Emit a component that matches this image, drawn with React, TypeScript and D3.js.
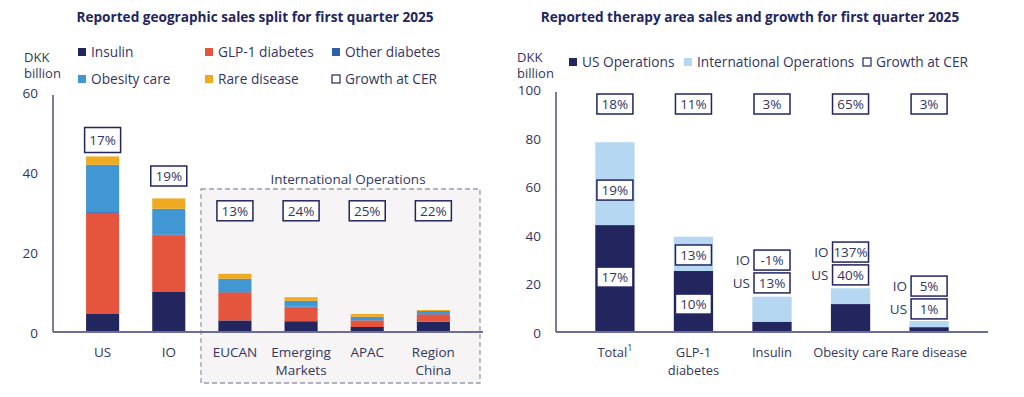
import * as d3 from 'd3';

// left chart: geographic split
const regions = ['US', 'IO', 'EUCAN', 'Emerging Markets', 'APAC', 'Region China'];
const regionLabels = [['US'], ['IO'], ['EUCAN'], ['Emerging', 'Markets'], ['APAC'], ['Region', 'China']];
const insulin = [4.5, 10.0, 2.9, 2.7, 1.25, 2.6];
const glp1 = [25.3, 14.1, 7.0, 3.5, 1.65, 1.8];
const otherDiabetes = [0.2, 0.3, 0.1, 0.1, 0.05, 0.1];
const obesity = [11.8, 6.4, 3.3, 1.5, 0.85, 0.75];
const rareDisease = [2.1, 2.6, 1.25, 0.9, 0.7, 0.25];
const regionGrowth = ['17%', '19%', '13%', '24%', '25%', '22%'];
const leftTicks = [0, 20, 40, 60];

// right chart: therapy areas
const therapies = ['Total', 'GLP-1 diabetes', 'Insulin', 'Obesity care', 'Rare disease'];
const usOps = [44.0, 25.1, 4.25, 11.5, 2.0];
const intlOps = [34.1, 14.1, 10.3, 6.5, 2.5];
const totalGrowth = ['18%', '11%', '3%', '65%', '3%'];
const usGrowth = ['17%', '10%', '13%', '40%', '1%'];
const ioGrowth = ['19%', '13%', '-1%', '137%', '5%'];
const rightTicks = [0, 20, 40, 60, 80, 100];

const NAVY = '#23255f';
const TEXT = '#33365f';
const AXIS = '#6b6d92';
const FONT = '"Open Sans", sans-serif';

function Box({ cx, cy, label, w = 36, h = 20 }: { cx: number; cy: number; label: string; w?: number; h?: number }) {
  return (
    <g>
      <rect x={cx - w / 2} y={cy - h / 2} width={w} height={h} fill="#fff" stroke={NAVY} strokeWidth={1.5} />
      <text x={cx} y={cy + 5} textAnchor="middle" fontSize={13.5} fill={TEXT}>{label}</text>
    </g>
  );
}

function LeftChart() {
  const x = d3.scaleBand().domain(regions).range([53, 483]).padding(0.5);
  const y = d3.scaleLinear().domain([0, 60]).range([332, 92]);
  const keys = ['insulin', 'glp1', 'other', 'obesity', 'rare'];
  const colors = ['#23255f', '#e5553d', '#2d5fae', '#4196d4', '#eeab22'];
  const rows = regions.map((r, i) => ({
    region: r, insulin: insulin[i], glp1: glp1[i], other: otherDiabetes[i], obesity: obesity[i], rare: rareDisease[i],
  }));
  const series = d3.stack<any>().keys(keys)(rows);
  const legend = [
    ['Insulin', colors[0]], ['GLP-1 diabetes', colors[1]], ['Other diabetes', colors[2]],
    ['Obesity care', colors[3]], ['Rare disease', colors[4]], ['Growth at CER', 'none'],
  ];
  const boxY = [y(48), y(39), y(30.3), y(30.3), y(30.3), y(30.3)];
  return (
    <g>
      <text x={255} y={22} textAnchor="middle" fontWeight="bold" fontSize={13.6} fill={NAVY}>
        Reported geographic sales split for first quarter 2025
      </text>
      {legend.map(([name, c], i) => {
        const lx = [78, 205, 332][i % 3];
        const ly = i < 3 ? 52 : 79;
        return (
          <g key={name}>
            <rect x={lx} y={ly - 4} width={8} height={8} fill={c === 'none' ? '#fff' : c}
              stroke={c === 'none' ? NAVY : 'none'} strokeWidth={1.2} />
            <text x={lx + 13} y={ly + 5} fontSize={13.7} fill={TEXT}>{name}</text>
          </g>
        );
      })}
      <text x={24} y={62} fontSize={13} fill={TEXT}>DKK</text>
      <text x={24} y={78} fontSize={13} fill={TEXT}>billion</text>
      {/* International Operations area */}
      <rect x={201} y={189} width={279} height={194} fill="#f7f4f5" stroke="#9a9cae" strokeDasharray="5,3" strokeWidth={1.3} />
      <text x={348} y={184} textAnchor="middle" fontSize={13.5} fill={TEXT}>International Operations</text>
      {series.map((s, k) => (
        <g key={keys[k]} fill={colors[k]}>
          {s.map((d, i) => (
            <rect key={i} x={x(regions[i])} y={y(d[1])} width={x.bandwidth()} height={y(d[0]) - y(d[1])} />
          ))}
        </g>
      ))}
      <line x1={53} x2={53} y1={95} y2={332} stroke={AXIS} strokeWidth={1.8} />
      <line x1={53} x2={483} y1={332} y2={332} stroke={AXIS} strokeWidth={1.8} />
      {leftTicks.map((t) => (
        <text key={t} x={38} y={y(t) + 6} textAnchor="end" fontSize={13.5} fill={TEXT}>{t}</text>
      ))}
      {regions.map((r, i) => (
        <g key={r}>
          {regionLabels[i].map((l, j) => (
            <text key={j} x={x(r)! + x.bandwidth() / 2} y={357 + j * 18} textAnchor="middle" fontSize={13.5} fill={TEXT}>{l}</text>
          ))}
          <Box cx={x(r)! + x.bandwidth() / 2} cy={boxY[i]} label={regionGrowth[i]} h={i === 0 ? 25 : 20} />
        </g>
      ))}
    </g>
  );
}

function RightChart() {
  const x = d3.scaleBand().domain(therapies).range([556, 988]).padding(0.5);
  const y = d3.scaleLinear().domain([0, 100]).range([332, 89]);
  const rows = therapies.map((t, i) => ({ t, us: usOps[i], io: intlOps[i] }));
  const series = d3.stack<any>().keys(['us', 'io'])(rows);
  const colors = [NAVY, '#b5d7f1'];
  const cx = (t: string) => x(t)! + x.bandwidth() / 2;
  // box centres (in data units) for IO and US growth labels
  const ioAt = [58.4, 31.7, 29.6, 32.9, 18.9];
  const usAt = [22.6, 11.5, 20.2, 23.5, 9.5];
  const labelled = [false, false, true, true, true];
  const xLabels = [['Total'], ['GLP-1', 'diabetes'], ['Insulin'], ['Obesity care'], ['Rare disease']];
  const legend = [
    ['US Operations', NAVY, 569], ['International Operations', '#b5d7f1', 684], ['Growth at CER', 'none', 863],
  ] as const;
  return (
    <g>
      <text x={750} y={22} textAnchor="middle" fontWeight="bold" fontSize={13.6} fill={NAVY}>
        Reported therapy area sales and growth for first quarter 2025
      </text>
      {legend.map(([name, c, lx]) => (
        <g key={name}>
          <rect x={lx} y={58} width={8} height={8} fill={c === 'none' ? '#fff' : c}
            stroke={c === 'none' ? NAVY : 'none'} strokeWidth={1.2} />
          <text x={lx + 13} y={67} fontSize={13.7} fill={TEXT}>{name}</text>
        </g>
      ))}
      <text x={517} y={62} fontSize={13} fill={TEXT}>DKK</text>
      <text x={517} y={78} fontSize={13} fill={TEXT}>billion</text>
      {series.map((s, k) => (
        <g key={k} fill={colors[k]}>
          {s.map((d, i) => (
            <rect key={i} x={x(therapies[i])} y={y(d[1])} width={x.bandwidth()} height={y(d[0]) - y(d[1])} />
          ))}
        </g>
      ))}
      <line x1={556} x2={556} y1={92} y2={332} stroke={AXIS} strokeWidth={1.8} />
      <line x1={556} x2={988} y1={332} y2={332} stroke={AXIS} strokeWidth={1.8} />
      {rightTicks.map((t) => (
        <text key={t} x={541} y={y(t) + 6} textAnchor="end" fontSize={13.5} fill={TEXT}>{t}</text>
      ))}
      {therapies.map((t, i) => (
        <g key={t}>
          {xLabels[i].map((l, j) => (
            <text key={j} x={cx(t)} y={357 + j * 18} textAnchor="middle" fontSize={12.9} fill={TEXT}>
              {l}
              {i === 0 && <tspan fontSize={9} dy={-6}>1</tspan>}
            </text>
          ))}
          <Box cx={cx(t)} cy={104} label={totalGrowth[i]} />
          <Box cx={cx(t)} cy={y(ioAt[i])} label={ioGrowth[i]} />
          <Box cx={cx(t)} cy={y(usAt[i])} label={usGrowth[i]} />
          {labelled[i] && (
            <>
              <text x={cx(t) - 22} y={y(ioAt[i]) + 5} textAnchor="end" fontSize={13.5} fill={TEXT}>IO</text>
              <text x={cx(t) - 22} y={y(usAt[i]) + 5} textAnchor="end" fontSize={13.5} fill={TEXT}>US</text>
            </>
          )}
        </g>
      ))}
    </g>
  );
}

export default function App() {
  return (
    <svg width={1024} height={397} style={{ position: 'absolute', left: 0, top: 0, fontFamily: FONT, background: '#fff' }}>
      <LeftChart />
      <RightChart />
    </svg>
  );
}
